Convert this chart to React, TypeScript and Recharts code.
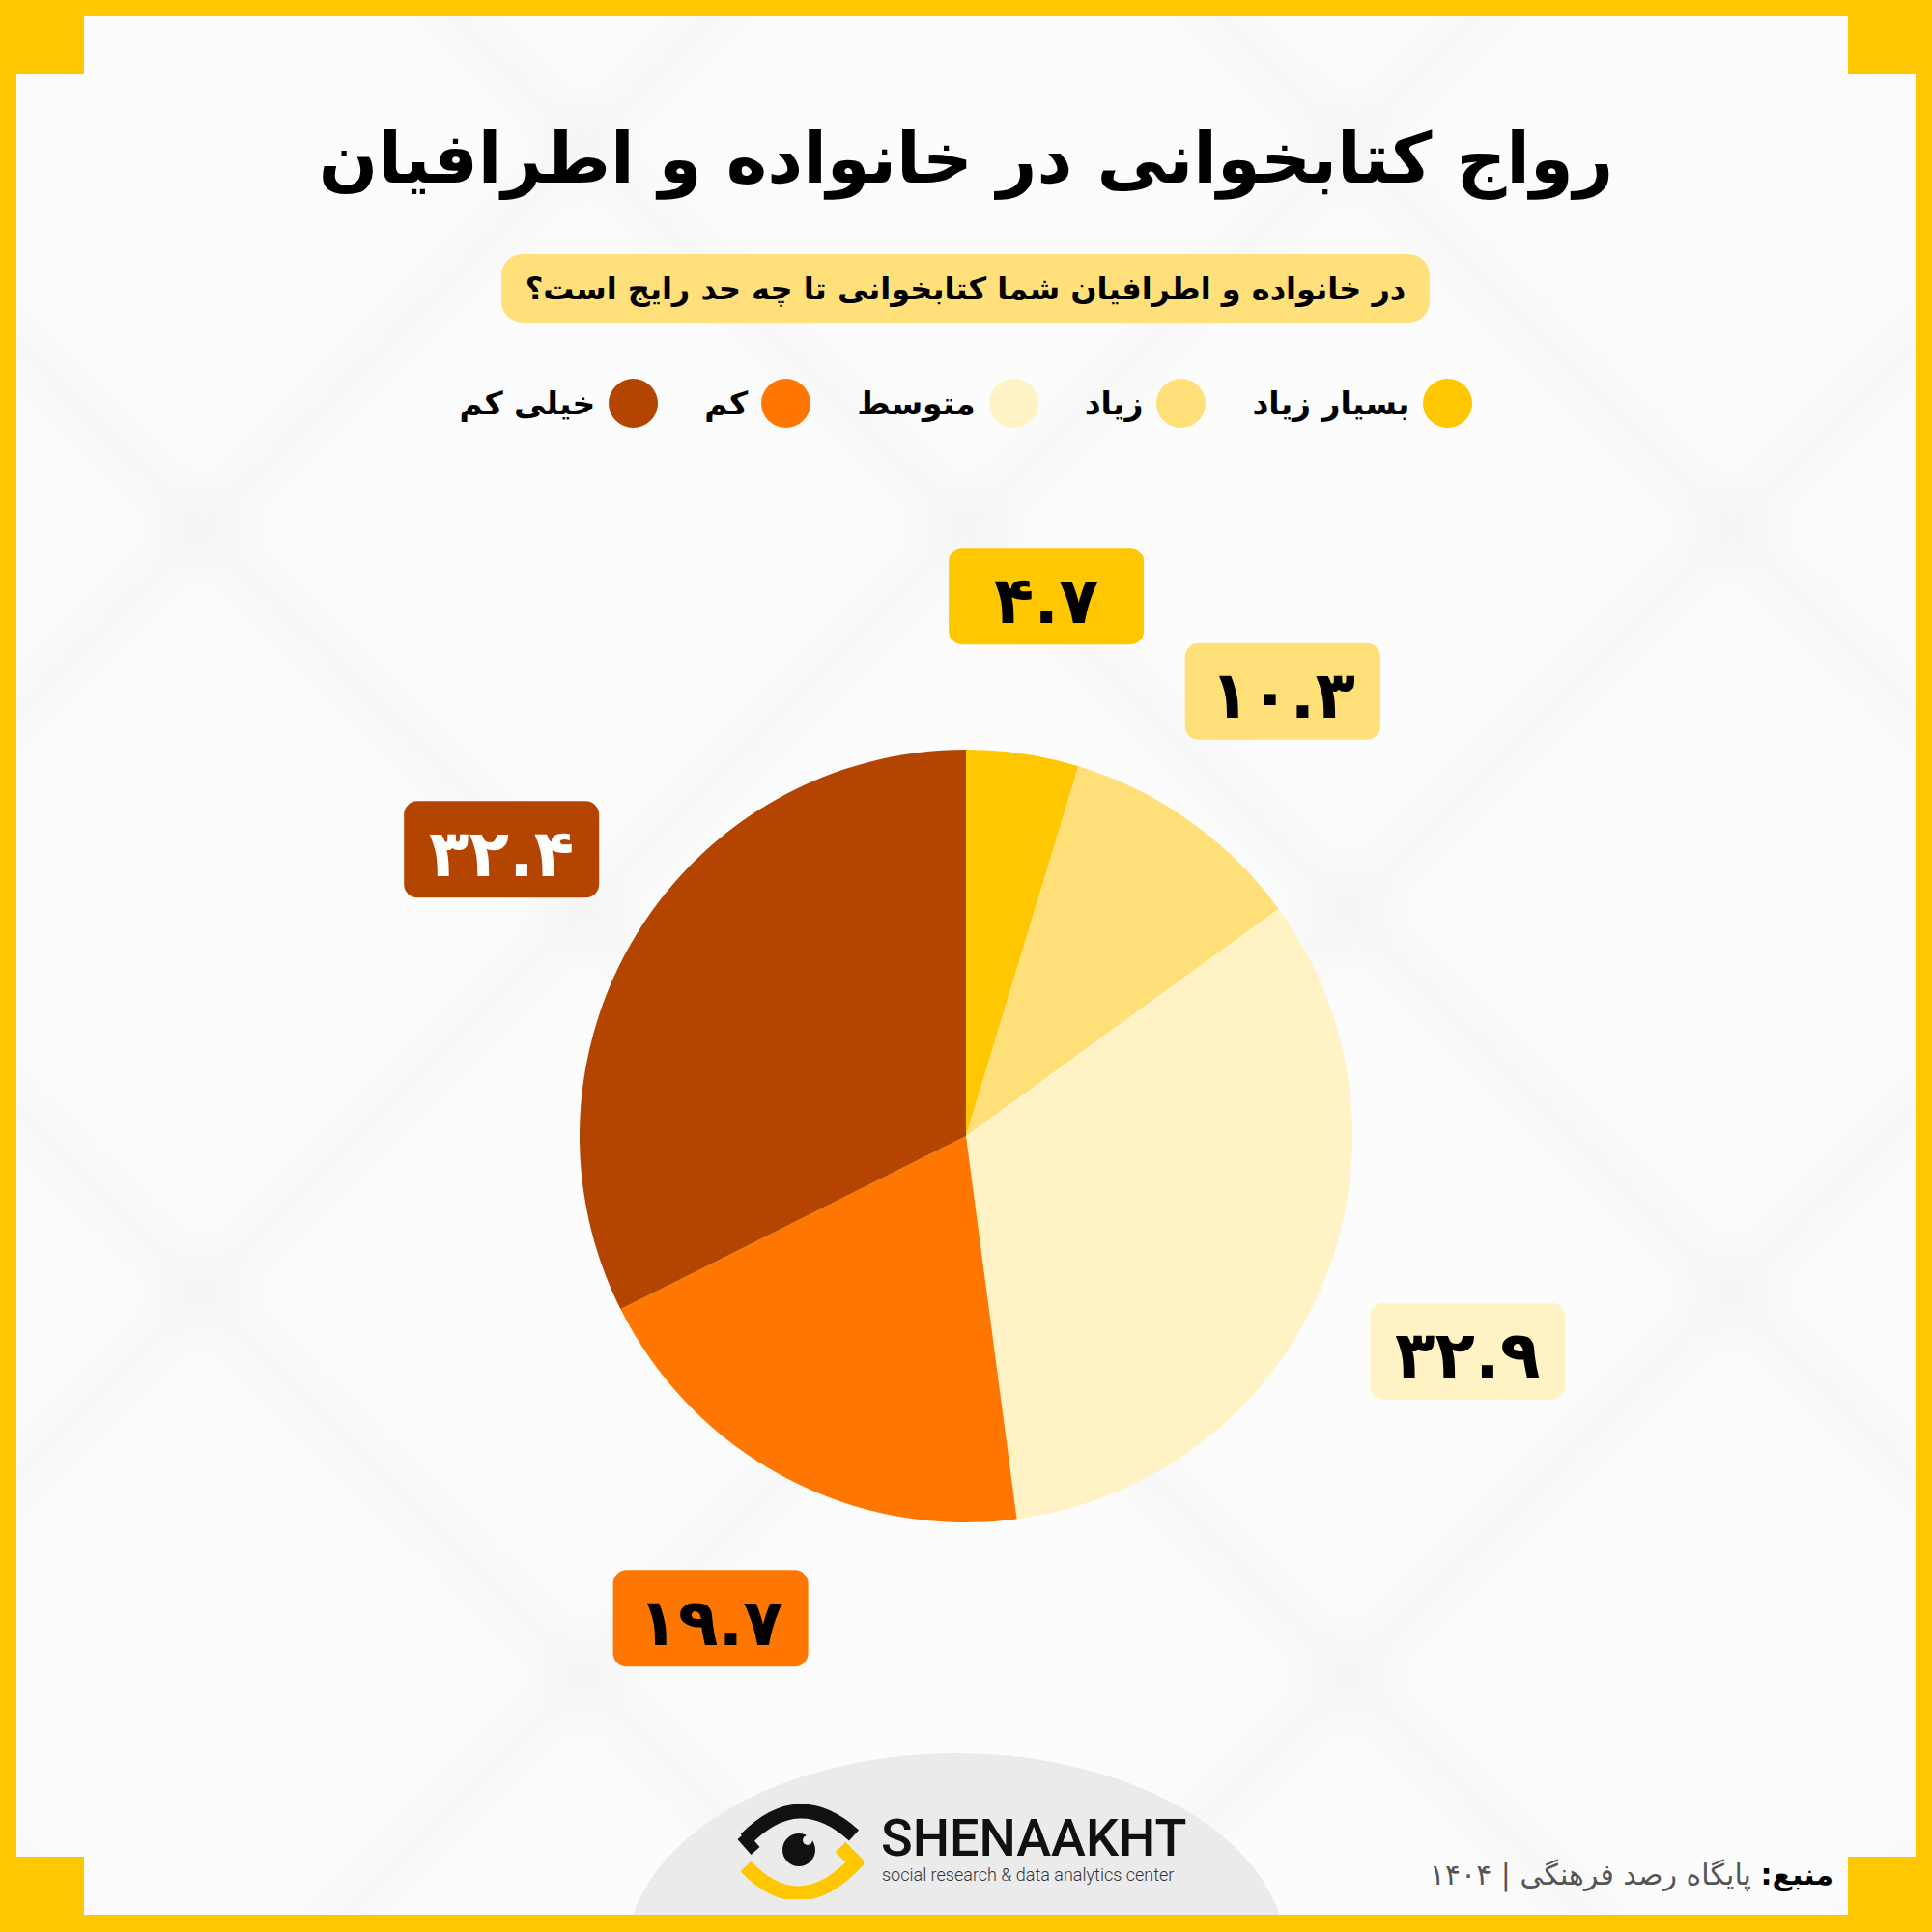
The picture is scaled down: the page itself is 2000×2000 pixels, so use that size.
import { PieChart, Pie, Cell } from 'recharts'

const CATEGORIES = ['بسیار زیاد', 'زیاد', 'متوسط', 'کم', 'خیلی کم']
const VALUES = [4.7, 10.3, 32.9, 19.7, 32.4]
const COLORS = ['#FFC700', '#FFDF77', '#FFF2C4', '#FF7700', '#B34500']
const LABEL_INK = ['#000', '#000', '#000', '#000', '#fff']

const TITLE = 'رواج کتابخوانی در خانواده و اطرافیان'
const QUESTION = 'در خانواده و اطرافیان شما کتابخوانی تا چه حد رایج است؟'
const SOURCE_LEAD = 'منبع:'
const SOURCE_TEXT = 'پایگاه رصد فرهنگی | ۱۴۰۴'

const data = CATEGORIES.map((name, i) => ({ name, value: VALUES[i] }))

const FA = 'DejaVu Sans, sans-serif'
const YELLOW = '#FFC700'
const RADIAN = Math.PI / 180

const toPersian = (n: number) =>
  String(n).replace(/\d/g, (d) => '۰۱۲۳۴۵۶۷۸۹'[Number(d)])

function renderLabel(props: any) {
  const { cx, cy, midAngle, outerRadius, index, value } = props
  const r = outerRadius + 165
  const x = cx + r * Math.cos(-midAngle * RADIAN)
  const y = cy + r * Math.sin(-midAngle * RADIAN)
  return (
    <g>
      <rect x={x - 101} y={y - 50} width={202} height={100} rx={14} fill={COLORS[index]} />
      <text
        x={x}
        y={y + 4}
        textAnchor="middle"
        dominantBaseline="central"
        fontFamily={FA}
        fontWeight="bold"
        fontSize={68}
        fill={LABEL_INK[index]}
      >
        {toPersian(value)}
      </text>
    </g>
  )
}

const abs = (s: React.CSSProperties): React.CSSProperties => ({ position: 'absolute', ...s })

export default function App() {
  return (
    <div
      style={abs({
        top: 0,
        left: 0,
        width: 2000,
        height: 2000,
        overflow: 'hidden',
        background: '#FCFCFC',
        backgroundImage:
          'repeating-linear-gradient(45deg, rgba(240,240,240,0) 0px, rgba(242,242,242,0.45) 55px, rgba(240,240,240,0) 110px, rgba(240,240,240,0) 560px), repeating-linear-gradient(-45deg, rgba(240,240,240,0) 0px, rgba(242,242,242,0.45) 55px, rgba(240,240,240,0) 110px, rgba(240,240,240,0) 560px)',
      })}
    >
      {/* footer hump */}
      <div
        style={abs({
          left: 648,
          top: 1815,
          width: 684,
          height: 420,
          borderRadius: '50%',
          background: '#EBEBEB',
        })}
      />

      <div style={abs({ left: 0, top: 0 })}>
        <PieChart width={2000} height={2000}>
          <Pie
            data={data}
            dataKey="value"
            nameKey="name"
            cx={995}
            cy={1171}
            outerRadius={400}
            startAngle={90}
            endAngle={-270}
            stroke="none"
            label={renderLabel}
            labelLine={false}
            isAnimationActive={false}
          >
            {data.map((_, i) => (
              <Cell key={`cell-${i}`} fill={COLORS[i]} />
            ))}
          </Pie>
        </PieChart>
      </div>

      {/* title */}
      <div
        dir="rtl"
        style={abs({
          left: 0,
          width: 2000,
          top: 104,
          textAlign: 'center',
          fontFamily: FA,
          fontWeight: 'bold',
          fontSize: 72,
          lineHeight: '120px',
          color: '#000',
        })}
      >
        {TITLE}
      </div>

      {/* question pill */}
      <div
        dir="rtl"
        style={abs({
          left: 519,
          top: 263,
          width: 961,
          height: 71,
          borderRadius: 22,
          background: '#FFE07A',
          display: 'flex',
          alignItems: 'center',
          justifyContent: 'center',
          fontFamily: FA,
          fontWeight: 'bold',
          fontSize: 32,
          color: '#000',
        })}
      >
        {QUESTION}
      </div>

      {/* legend */}
      <div
        dir="rtl"
        style={abs({
          left: 0,
          width: 2000,
          top: 387,
          height: 60,
          display: 'flex',
          justifyContent: 'center',
          alignItems: 'center',
          gap: 48,
          fontFamily: FA,
          fontWeight: 'bold',
          fontSize: 33,
          color: '#000',
        })}
      >
        {CATEGORIES.map((c, i) => (
          <div key={c} style={{ display: 'flex', alignItems: 'center', gap: 14 }}>
            <span
              style={{
                width: 51,
                height: 51,
                borderRadius: '50%',
                background: COLORS[i],
                display: 'inline-block',
              }}
            />
            <span>{c}</span>
          </div>
        ))}
      </div>

      {/* logo */}
      <svg style={abs({ left: 760, top: 1862 })} width={134} height={104}>
        <path d="M 12 42 Q 67 -14 124 38" stroke="#111" strokeWidth={15} fill="none" />
        <path d="M 8 38 L 22 54" stroke="#111" strokeWidth={12} fill="none" />
        <circle cx={67} cy={53} r={17} fill="#111" />
        <circle cx={76} cy={43} r={5} fill="#EBEBEB" />
        <path d="M 12 70 Q 67 128 126 66 L 110 50" stroke={YELLOW} strokeWidth={15} fill="none" strokeLinejoin="miter" />
      </svg>
      <div
        style={abs({
          left: 912,
          top: 1878,
          fontFamily: 'Roboto, sans-serif',
          fontWeight: 500,
          fontSize: 54,
          lineHeight: '50px',
          color: '#111',
        })}
      >
        SHENAAKHT
      </div>
      <div
        style={abs({
          left: 913,
          top: 1931,
          fontFamily: 'Roboto, sans-serif',
          fontWeight: 300,
          fontSize: 18,
          lineHeight: '20px',
          color: '#333',
        })}
      >
        social research &amp; data analytics center
      </div>

      {/* source */}
      <div
        dir="rtl"
        style={abs({
          right: 102,
          top: 1918,
          fontFamily: FA,
          fontSize: 30,
          lineHeight: '46px',
          color: '#555',
          whiteSpace: 'nowrap',
        })}
      >
        <span style={{ color: '#000', fontWeight: 'bold' }}>{SOURCE_LEAD}</span> {SOURCE_TEXT}
      </div>

      {/* frame */}
      <div style={abs({ left: 0, top: 0, width: 2000, height: 17, background: YELLOW })} />
      <div style={abs({ left: 0, bottom: 0, width: 2000, height: 18, background: YELLOW })} />
      <div style={abs({ left: 0, top: 0, width: 17, height: 2000, background: YELLOW })} />
      <div style={abs({ right: 0, top: 0, width: 17, height: 2000, background: YELLOW })} />
      <div style={abs({ left: 0, top: 0, width: 87, height: 77, background: YELLOW })} />
      <div style={abs({ right: 0, top: 0, width: 87, height: 77, background: YELLOW })} />
      <div style={abs({ left: 0, bottom: 0, width: 87, height: 78, background: YELLOW })} />
      <div style={abs({ right: 0, bottom: 0, width: 87, height: 78, background: YELLOW })} />
    </div>
  )
}
